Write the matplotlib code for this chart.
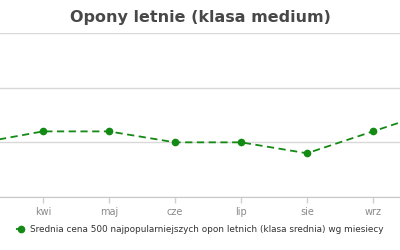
import matplotlib
matplotlib.use("Agg")
from matplotlib import pyplot as plt

# monthly average price (arbitrary scale)
months = ['mar', 'kwi', 'maj', 'cze', 'lip', 'sie', 'wrz', 'paź']
prices = [299, 310, 310, 300, 300, 290, 310, 330]
shown_labels = ['', 'kwi', 'maj', 'cze', 'lip', 'sie', 'wrz', '']
grid_values = [250, 300, 350, 400]

title = 'Opony letnie (klasa medium)'
series_name = 'Srednia cena 500 najpopularniejszych opon letnich (klasa srednia) wg miesiecy'

fig = plt.figure(figsize=(4, 2.5), dpi=100)
ax = fig.add_axes([0, 0.212, 1, 0.656])

x = list(range(len(months)))
line, = ax.plot(x, prices, color='#138a13', linestyle='--', dashes=(4, 2.5), linewidth=1.3,
                marker='o', markersize=4.5, label=series_name)

ax.set_yticks(grid_values)
ax.set_ylim(grid_values[0], grid_values[-1])
ax.yaxis.grid(True, color='#d8d8d8', linewidth=1)
ax.tick_params(axis='y', left=False, labelleft=False)
ax.set_xticks(x)
ax.set_xticklabels(shown_labels)
ax.set_xlim(0.35, 6.41)
ax.tick_params(axis='x', colors='#d0d0d0', length=4, width=1, labelsize=7, pad=3)
for lab in ax.get_xticklabels():
    lab.set_color('#8a8a8a')
for side in ['left', 'right', 'top']:
    ax.spines[side].set_visible(False)
ax.spines['bottom'].set_color('#c8c8c8')
ax.set_axisbelow(True)

fig.text(0.5, 0.93, title, ha='center', va='center', fontsize=11.5, fontweight='bold', color='#484848')

fig.legend(handles=[line], loc='center', bbox_to_anchor=(0.5, 0.08), frameon=False,
           fontsize=6.4, labelcolor='#333333', handlelength=1.2, handletextpad=0.4)

plt.savefig('out.png', dpi=100)
